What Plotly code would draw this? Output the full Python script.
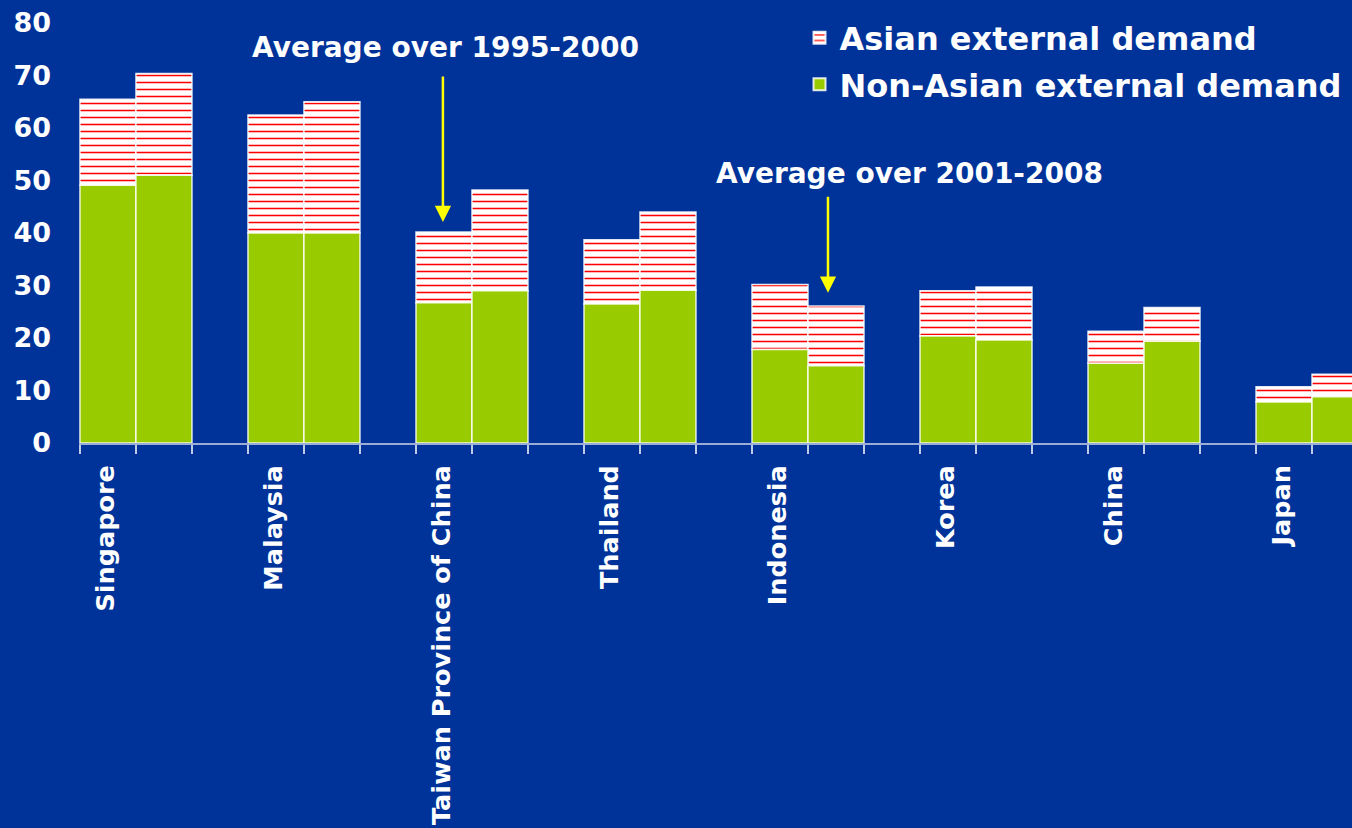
import plotly.graph_objects as go

countries = ["Singapore", "Malaysia", "Taiwan Province of China", "Thailand",
             "Indonesia", "Korea", "China", "Japan"]
# Average over 1995-2000
non_asian_1 = [49.1, 40.0, 26.7, 26.5, 17.8, 20.4, 15.2, 7.8]
asian_1 = [16.4, 22.5, 13.5, 12.2, 12.4, 8.6, 6.1, 2.9]
# Average over 2001-2008
non_asian_2 = [51.0, 40.0, 29.0, 29.1, 14.7, 19.6, 19.4, 8.8]
asian_2 = [19.4, 25.0, 19.2, 14.9, 11.4, 10.1, 6.4, 4.3]
y_ticks = [0, 10, 20, 30, 40, 50, 60, 70, 80]

BG = "#003399"
GREEN = "#99CC00"
FONT = "Verdana, DejaVu Sans, sans-serif"
W = 1 / 3

idx = list(range(len(countries)))
x1 = [i - W / 2 for i in idx]
x2 = [i + W / 2 for i in idx]

outline = dict(color="rgba(255,255,255,0.85)", width=1.5)
pattern = dict(shape="-", fgcolor="#FF0000", bgcolor="white", size=7,
               solidity=0.22, fillmode="replace")

fig = go.Figure()
fig.add_trace(go.Bar(x=x1, y=asian_1, base=non_asian_1, width=W,
                     name="Asian external demand", legendgroup="a",
                     marker=dict(color="white", pattern=pattern, line=outline)))
fig.add_trace(go.Bar(x=x2, y=asian_2, base=non_asian_2, width=W,
                     name="Asian external demand", legendgroup="a", showlegend=False,
                     marker=dict(color="white", pattern=pattern, line=outline)))
fig.add_trace(go.Bar(x=x1, y=non_asian_1, width=W,
                     name="Non-Asian external demand", legendgroup="b",
                     marker=dict(color=GREEN, line=outline)))
fig.add_trace(go.Bar(x=x2, y=non_asian_2, width=W,
                     name="Non-Asian external demand", legendgroup="b", showlegend=False,
                     marker=dict(color=GREEN, line=outline)))

edges = [i - W + k * W for i in idx for k in range(3)]

fig.update_layout(
    width=1352, height=828,
    margin=dict(l=79, r=0, t=23, b=385),
    paper_bgcolor=BG, plot_bgcolor=BG,
    barmode="overlay",
    font=dict(family=FONT, color="white", size=25, weight="bold"),
    showlegend=True,
    legend=dict(x=0.566, y=1.03, xanchor="left", yanchor="top",
                bgcolor="rgba(0,0,0,0)",
                font=dict(size=32, family=FONT, color="white", weight="bold"),
                tracegroupgap=2, itemsizing="constant"),
    xaxis=dict(range=[-0.339, 7.238], tickmode="array",
               tickvals=[i - 0.18 for i in idx], ticktext=countries,
               tickangle=-90, ticks="", showgrid=False, zeroline=False,
               showline=True, linecolor="rgba(255,255,255,0.6)", linewidth=2,
               ticklabelstandoff=10,
               tickfont=dict(size=25.5, family=FONT, color="white", weight="bold"),
               minor=dict(tickmode="array", tickvals=edges, ticks="outside",
                          ticklen=9, tickwidth=1.5,
                          tickcolor="rgba(255,255,255,0.75)", showgrid=False)),
    yaxis=dict(range=[0, 80], tickmode="array", tickvals=y_ticks,
               showgrid=False, zeroline=False, showline=False, ticks="",
               ticklabelstandoff=27,
               tickfont=dict(size=27, family=FONT, color="white", weight="bold")),
    annotations=[
        dict(x=1.845, y=75.4, xref="x", yref="y", text="Average over 1995-2000",
             showarrow=False, font=dict(size=28, family=FONT, color="white", weight="bold")),
        dict(x=4.607, y=51.4, xref="x", yref="y", text="Average over 2001-2008",
             showarrow=False, font=dict(size=28, family=FONT, color="white", weight="bold")),
        dict(x=1.827, y=42.1, ax=1.827, ay=70.1, xref="x", yref="y", axref="x", ayref="y",
             text="", showarrow=True, arrowhead=2, arrowsize=1.3, arrowwidth=2.5,
             arrowcolor="#FFFF00"),
        dict(x=4.119, y=28.6, ax=4.119, ay=47.2, xref="x", yref="y", axref="x", ayref="y",
             text="", showarrow=True, arrowhead=2, arrowsize=1.3, arrowwidth=2.5,
             arrowcolor="#FFFF00"),
    ],
)

fig.write_html("out.html")
